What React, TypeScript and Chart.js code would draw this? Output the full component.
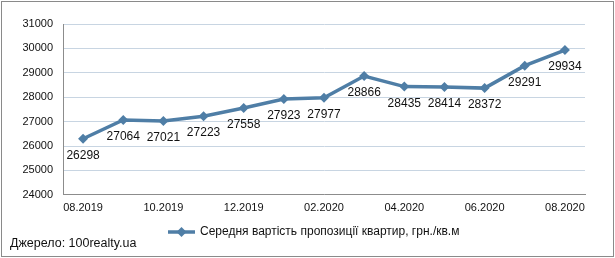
import React, { useEffect, useRef } from "react";
import { Chart, registerables } from "chart.js";

Chart.register(...registerables);

const months = [
  "08.2019", "09.2019", "10.2019", "11.2019", "12.2019", "01.2020", "02.2020",
  "03.2020", "04.2020", "05.2020", "06.2020", "07.2020", "08.2020",
];
const prices = [26298, 27064, 27021, 27223, 27558, 27923, 27977, 28866, 28435, 28414, 28372, 29291, 29934];
const seriesLabel = "Середня вартість пропозиції квартир, грн./кв.м";
const sourceText = "Джерело: 100realty.ua";

const LINE = "#4f7ea6";
const FONT = "'Liberation Sans', Arial, sans-serif";

const decorPlugin = {
  id: "decor",
  afterDatasetsDraw(chart: any) {
    const ctx = chart.ctx;
    const meta = chart.getDatasetMeta(0);
    ctx.save();
    ctx.fillStyle = "#111";
    ctx.font = `12px ${FONT}`;
    ctx.textAlign = "center";
    ctx.textBaseline = "middle";
    meta.data.forEach((pt: any, i: number) => {
      ctx.fillText(String(prices[i]), pt.x, pt.y + 17);
    });
    ctx.restore();
  },
  afterDraw(chart: any) {
    const ctx = chart.ctx;
    ctx.save();
    ctx.strokeStyle = "#8a8a8a";
    ctx.lineWidth = 1;
    ctx.strokeRect(1.5, 1.5, 612, 255);
    const ly = 232;
    ctx.strokeStyle = LINE;
    ctx.lineWidth = 3.5;
    ctx.beginPath();
    ctx.moveTo(168, ly);
    ctx.lineTo(195, ly);
    ctx.stroke();
    ctx.fillStyle = LINE;
    ctx.beginPath();
    ctx.moveTo(181.5, ly - 5);
    ctx.lineTo(186.5, ly);
    ctx.lineTo(181.5, ly + 5);
    ctx.lineTo(176.5, ly);
    ctx.closePath();
    ctx.fill();
    ctx.fillStyle = "#111";
    ctx.font = `12px ${FONT}`;
    ctx.textAlign = "left";
    ctx.textBaseline = "middle";
    ctx.fillText(seriesLabel, 200, ly);
    ctx.font = `12.5px ${FONT}`;
    ctx.fillText(sourceText, 10, 244);
    ctx.restore();
  },
};

export default function App() {
  const ref = useRef<HTMLCanvasElement | null>(null);
  useEffect(() => {
    document.body.style.margin = "0";
    const chart = new Chart(ref.current as HTMLCanvasElement, {
      type: "line",
      data: {
        labels: months,
        datasets: [
          {
            label: seriesLabel,
            data: prices,
            borderColor: LINE,
            backgroundColor: LINE,
            borderWidth: 3.5,
            pointStyle: "rectRot",
            pointRadius: 5,
            pointBorderWidth: 0,
            pointBackgroundColor: LINE,
            tension: 0,
          },
        ],
      },
      options: {
        animation: false,
        responsive: false,
        devicePixelRatio: 1,
        layout: { padding: { top: 24, right: 30, bottom: 36, left: 0 } },
        plugins: { legend: { display: false }, tooltip: { enabled: false } },
        scales: {
          x: {
            type: "category",
            offset: true,
            grid: { display: false, drawTicks: false },
            border: { display: true, color: "#8c8c8c", width: 1 },
            ticks: {
              autoSkip: false,
              maxRotation: 0,
              padding: 7,
              color: "#111",
              font: { family: FONT, size: 11 },
              callback: (_v: any, i: number) => (i % 2 === 0 ? months[i] : ""),
            },
          },
          y: {
            min: 24000,
            max: 31000,
            afterFit: (s: any) => {
              s.width = 63;
            },
            grid: { color: "#c8d5e2", drawTicks: false },
            border: { display: true, color: "#8c8c8c", width: 1 },
            ticks: {
              stepSize: 1000,
              padding: 10,
              color: "#111",
              font: { family: FONT, size: 11 },
              callback: (v: any) => String(v),
            },
          },
        },
      },
      plugins: [decorPlugin],
    } as any);
    return () => chart.destroy();
  }, []);
  return (
    <div style={{ position: "absolute", left: 0, top: 0, width: 615, height: 258, background: "#fff" }}>
      <canvas ref={ref} width={615} height={258} />
    </div>
  );
}
